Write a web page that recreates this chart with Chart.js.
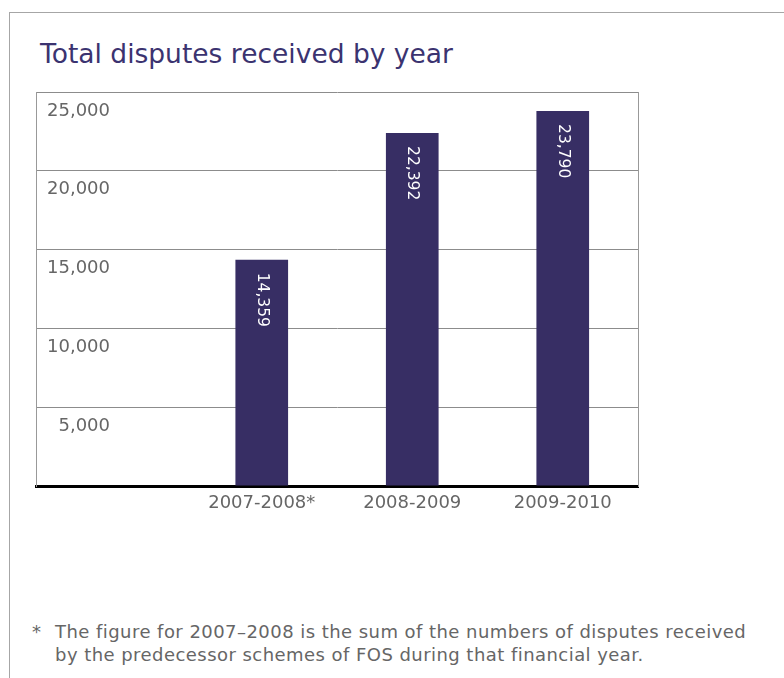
<!DOCTYPE html>
<html>
<head>
<meta charset="utf-8">
<script src="https://cdn.jsdelivr.net/npm/chart.js@4.4.0/dist/chart.umd.min.js"></script>
<style>
html,body{margin:0;padding:0;background:#fff;width:784px;height:678px;overflow:hidden;}
#frame{position:absolute;left:9px;top:12px;width:775px;height:666px;border-top:1px solid #a6a6a6;border-left:1px solid #a6a6a6;box-sizing:border-box;}
#title{position:absolute;left:40px;top:39px;font-family:"DejaVu Sans";font-size:26.5px;line-height:30px;color:#3b3370;white-space:nowrap;}
#wrap{position:absolute;left:0;top:0;width:784px;height:540px;}
#note{position:absolute;left:32px;top:620px;font-family:"DejaVu Sans";font-size:18px;letter-spacing:0.45px;line-height:23px;color:#666;white-space:nowrap;}
#note .star{position:absolute;left:0;top:0;}
#note .txt{position:absolute;left:23px;top:0;}
</style>
</head>
<body>
<div id="frame"></div>
<div id="title">Total disputes received by year</div>
<div id="wrap"><canvas id="c" width="784" height="540"></canvas></div>
<div id="note"><span class="star">*</span><span class="txt">The figure for 2007–2008 is the sum of the numbers of disputes received<br>by the predecessor schemes of FOS during that financial year.</span></div>
<script>
const categories = ['', '2007-2008*', '2008-2009', '2009-2010'];
const disputes = [null, 14359, 22392, 23790];
const yMin = 0, yMax = 25000, yStep = 5000;

const FONT = '"DejaVu Sans"';
Chart.defaults.font.family = FONT;

const tickFontSize = 18;
const mctx = document.createElement('canvas').getContext('2d');
mctx.font = tickFontSize + 'px ' + FONT;
const widest = mctx.measureText('25,000').width;

const valueLabels = {
  id: 'valueLabels',
  afterDatasetsDraw(chart) {
    const ctx = chart.ctx;
    const meta = chart.getDatasetMeta(0);
    meta.data.forEach((bar, i) => {
      const v = disputes[i];
      if (v == null) return;
      ctx.save();
      ctx.translate(bar.x, bar.y + 13);
      ctx.rotate(Math.PI / 2);
      ctx.fillStyle = '#ffffff';
      ctx.font = '15.5px ' + FONT;
      ctx.textAlign = 'left';
      ctx.textBaseline = 'middle';
      ctx.fillText(v.toLocaleString('en-US'), 0, 0);
      ctx.restore();
    });
  }
};

new Chart(document.getElementById('c'), {
  type: 'bar',
  data: {
    labels: categories,
    datasets: [{
      data: disputes,
      backgroundColor: '#372e64',
      borderWidth: 0,
      barPercentage: 0.35,
      categoryPercentage: 1.0
    }]
  },
  options: {
    responsive: false,
    animation: false,
    layout: { padding: { left: 36, right: 146, top: 92, bottom: 14 } },
    plugins: { legend: { display: false }, tooltip: { enabled: false } },
    scales: {
      x: {
        grid: { display: false, drawTicks: false },
        border: { display: true, color: '#000', width: 3 },
        ticks: { color: '#666', font: { size: tickFontSize }, padding: 7, maxRotation: 0 },
        afterFit: s => { s.height = 40; }
      },
      y: {
        min: yMin, max: yMax,
        grid: { color: '#8c8c8c', lineWidth: 1, drawTicks: false },
        border: { display: true, color: '#999', width: 1 },
        ticks: {
          stepSize: yStep,
          mirror: true,
          crossAlign: 'far',
          padding: 74 - widest,
          labelOffset: 19,
          color: '#666',
          font: { size: tickFontSize },
          callback: v => v === 0 ? '' : v.toLocaleString('en-US')
        },
        afterFit: s => { s.width = 0; }
      },
      y2: {
        position: 'right',
        min: yMin, max: yMax,
        grid: { display: false, drawTicks: false },
        border: { display: true, color: '#999', width: 1 },
        ticks: { display: false },
        afterFit: s => { s.width = 0; }
      }
    }
  },
  plugins: [valueLabels]
});
</script>
</body>
</html>
